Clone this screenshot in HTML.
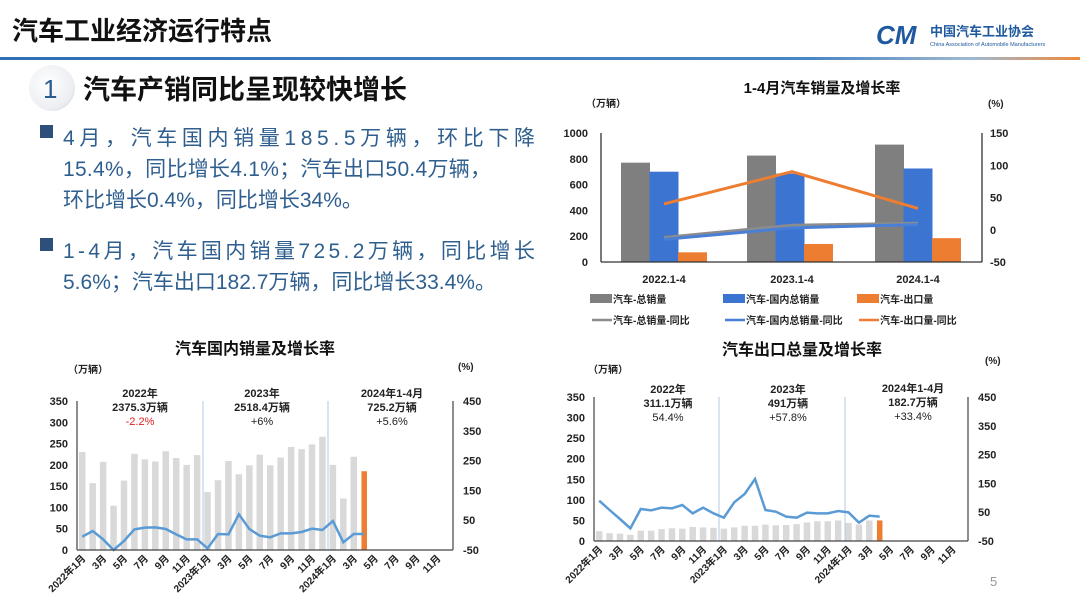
<!DOCTYPE html>
<html><head><meta charset="utf-8">
<style>
html,body{margin:0;padding:0;background:#fff;}
body{width:1080px;height:607px;overflow:hidden;position:relative;font-family:"Liberation Sans","Noto Sans CJK SC",sans-serif;}
svg{position:absolute;left:0;top:0;}
</style></head>
<body>
<svg id="s" width="1080" height="607" viewBox="0 0 1080 607" xmlns="http://www.w3.org/2000/svg" font-family="Liberation Sans, Noto Sans CJK SC, sans-serif">
<defs>
<linearGradient id="hl" x1="0" x2="1" y1="0" y2="0">
<stop offset="0" stop-color="#2e6fb5"/><stop offset="0.75" stop-color="#4a86c5"/><stop offset="0.9" stop-color="#9fb8d0"/><stop offset="1" stop-color="#ee8a3c"/>
</linearGradient>
<radialGradient id="cg" cx="0.4" cy="0.4" r="0.7"><stop offset="0" stop-color="#ffffff"/><stop offset="0.8" stop-color="#eceef2"/><stop offset="1" stop-color="#d6d9df"/></radialGradient>
</defs>
<text x="12" y="40" font-size="26" font-weight="bold" fill="#111">汽车工业经济运行特点</text>
<rect x="0" y="57" width="1080" height="3" fill="url(#hl)"/>
<text x="876" y="44" font-size="26" font-weight="bold" font-style="italic" fill="#1f5aa0">CM</text>
<text x="930" y="36" font-size="13" font-weight="bold" fill="#1f5aa0">中国汽车工业协会</text>
<text x="930" y="46" font-size="5.5" fill="#1f5aa0">China Association of Automobile Manufacturers</text>
<circle cx="52" cy="88" r="23" fill="url(#cg)"/>
<text x="43" y="98" font-size="26" fill="#2a5c8f">1</text>
<text x="83" y="99" font-size="27" font-weight="bold" fill="#111">汽车产销同比呈现较快增长</text>
<g fill="#2f5f8f" font-size="21">
<rect x="40" y="125" width="13" height="13" fill="#2c4f7c"/>
<text x="63" y="145" textLength="472" lengthAdjust="spacing">4月，汽车国内销量185.5万辆，环比下降</text>
<text x="63" y="176" textLength="428" lengthAdjust="spacing">15.4%，同比增长4.1%；汽车出口50.4万辆，</text>
<text x="63" y="207">环比增长0.4%，同比增长34%。</text>
<rect x="40" y="238" width="13" height="13" fill="#2c4f7c"/>
<text x="63" y="258" textLength="472" lengthAdjust="spacing">1-4月，汽车国内销量725.2万辆，同比增长</text>
<text x="63" y="289">5.6%；汽车出口182.7万辆，同比增长33.4%。</text>
</g>
<text x="822" y="93" font-size="15" font-weight="bold" fill="#111" text-anchor="middle">1-4月汽车销量及增长率</text>
<text x="586" y="107" font-size="10" font-weight="bold" fill="#222">（万辆）</text>
<text x="988" y="107" font-size="10" font-weight="bold" fill="#222">(%)</text>
<g id="tr"></g>
<text x="255" y="354" font-size="16" font-weight="bold" fill="#111" text-anchor="middle">汽车国内销量及增长率</text>
<text x="68" y="373" font-size="10" font-weight="bold" fill="#222">（万辆）</text>
<text x="458" y="370" font-size="10" font-weight="bold" fill="#222">(%)</text>
<g id="bl"></g>
<text x="802" y="355" font-size="16" font-weight="bold" fill="#111" text-anchor="middle">汽车出口总量及增长率</text>
<text x="588" y="373" font-size="10" font-weight="bold" fill="#222">（万辆）</text>
<text x="985" y="364" font-size="10" font-weight="bold" fill="#222">(%)</text>
<g id="br"></g>
<text x="990" y="586" font-size="13" fill="#999">5</text>
</svg>
<script>
var NS="http://www.w3.org/2000/svg";
function el(p,t,a,txt){var e=document.createElementNS(NS,t);for(var k in a)e.setAttribute(k,a[k]);if(txt!=null)e.textContent=txt;p.appendChild(e);return e;}
(function(){
var g=document.getElementById('tr');
var y0=262,yt=133;function yl(v){return y0-(v/1000)*(y0-yt);}function yr(v){return y0-((v+50)/200)*(y0-yt);}
[0,200,400,600,800,1000].forEach(function(v){el(g,'text',{x:588,y:yl(v)+4,'font-size':11,'font-weight':'bold','text-anchor':'end',fill:'#222'},v);});
[-50,0,50,100,150].forEach(function(v){el(g,'text',{x:990,y:yr(v)+4,'font-size':11,'font-weight':'bold',fill:'#222'},v);});
var gx=[621,747,875],gv=[[770,700,75],[825,685,140],[910,725,185]],cols=['#7f7f7f','#3b74d1','#ed7d31'];
gx.forEach(function(x,i){for(var j=0;j<3;j++){var h=gv[i][j];el(g,'rect',{x:x+j*28.5,y:yl(h),width:29,height:y0-yl(h),fill:cols[j]});}});
el(g,'line',{x1:601,y1:yt,x2:601,y2:y0,stroke:'#333','stroke-width':1.3});
el(g,'line',{x1:982,y1:yt,x2:982,y2:y0,stroke:'#333','stroke-width':1.3});
el(g,'line',{x1:601,y1:y0,x2:982,y2:y0,stroke:'#333','stroke-width':1.3});
var lx=[664,792,918];
function ln(vals,c){el(g,'polyline',{points:lx.map(function(x,i){return x+','+yr(vals[i]);}).join(' '),fill:'none',stroke:c,'stroke-width':3});}
ln([-12,7,10],'#8c8c8c');ln([-15,3,8],'#4a7fd6');ln([40,90,33],'#ed7d31');
['2022.1-4','2023.1-4','2024.1-4'].forEach(function(t,i){el(g,'text',{x:lx[i],y:283,'font-size':11,'font-weight':'bold','text-anchor':'middle',fill:'#222'},t);});
var L=[[590,'汽车-总销量','#7f7f7f'],[723,'汽车-国内总销量','#3b74d1'],[857,'汽车-出口量','#ed7d31']];
L.forEach(function(a){el(g,'rect',{x:a[0],y:294,width:22,height:9,fill:a[2]});el(g,'text',{x:a[0]+23,y:303,'font-size':10,'font-weight':'bold',fill:'#222'},a[1]);});
var L2=[[590,'汽车-总销量-同比','#8c8c8c'],[723,'汽车-国内总销量-同比','#4a7fd6'],[857,'汽车-出口量-同比','#ed7d31']];
L2.forEach(function(a){el(g,'line',{x1:a[0]+2,y1:320,x2:a[0]+22,y2:320,stroke:a[2],'stroke-width':2.5});el(g,'text',{x:a[0]+23,y:324,'font-size':10,'font-weight':'bold',fill:'#222'},a[1]);});
})();
function monthly(id,ax0,ax1,yt,y0,bars,lineY,divs,ann){
var g=document.getElementById(id);
function yl(v){return y0-(v/350)*(y0-yt);}function yr(v){return y0-((v+50)/500)*(y0-yt);}
[0,50,100,150,200,250,300,350].forEach(function(v){el(g,'text',{x:ax0-9,y:yl(v)+4,'font-size':11,'font-weight':'bold','text-anchor':'end',fill:'#222'},v);});
[-50,50,150,250,350,450].forEach(function(v){el(g,'text',{x:ax1+10,y:yr(v)+4,'font-size':11,'font-weight':'bold',fill:'#222'},v);});
var sw=(ax1-ax0)/36;
bars.forEach(function(v,i){var cx=ax0+sw*(i+0.5);var last=i==bars.length-1;var w=last?5.5:6.5;el(g,'rect',{x:cx-w/2,y:yl(v),width:w,height:y0-yl(v),fill:last?'#ed7d31':'#d9d9d9'});});
divs.forEach(function(x){el(g,'line',{x1:x,y1:yt,x2:x,y2:y0,stroke:'#9dbbe0','stroke-width':0.8});});
el(g,'polyline',{points:lineY.map(function(y,i){return (ax0+sw*(i+0.5))+','+y;}).join(' '),fill:'none',stroke:'#5b9bd5','stroke-width':2.5});
el(g,'line',{x1:ax0,y1:yt,x2:ax0,y2:y0,stroke:'#444','stroke-width':1.2});
el(g,'line',{x1:ax1,y1:yt,x2:ax1,y2:y0,stroke:'#444','stroke-width':1.2});
el(g,'line',{x1:ax0,y1:y0,x2:ax1,y2:y0,stroke:'#444','stroke-width':1.2});
for(var k=0;k<18;k++){var m=(k%6)*2+1;var yy=2022+Math.floor(k/6);var t=(m==1)?(yy+'年1月'):(m+'月');
var cx=ax0+sw*(2*k+0.5)+4;el(g,'text',{x:cx,y:y0+9,'font-size':10,'font-weight':'bold','text-anchor':'end',fill:'#222',transform:'rotate(-45 '+cx+' '+(y0+9)+')'},t);}
ann.forEach(function(a){a[2].forEach(function(t,j){el(g,'text',{x:a[0],y:a[1]+j*14,'font-size':11,'font-weight':(j<2?'bold':'normal'),'text-anchor':'middle',fill:(t=='-2.2%'?'#e02020':'#222')},t);});});
}
var dom=[230,157,207,104,163,226,213,208,232,216,200,223,136,164,209,178,199,224,199,217,242,237,248,266,200,121,219,185];
var dl=[620,603,628,660,633,598,593,592,597,613,628,628,655,612,613,553,597,617,622,610,610,606,596,600,573,637,612,612].map(function(v){return v/3+330;});
monthly('bl',77,453,401,550,dom,dl,[203,328],[[140,397,['2022年','2375.3万辆','-2.2%']],[262,397,['2023年','2518.4万辆','+6%']],[392,397,['2024年1-4月','725.2万辆','+5.6%']]]);
var ex=[24,19,18,15,25,25,29,31,30,34,33,32,30,33,37,37,40,38,39,41,45,48,48,50,44,40,50,50];
var el_=[512,540,567,595,537,541,533,535,525,550,533,550,563,517,492,447,540,545,560,563,548,550,550,543,547,578,557,560].map(function(v){return v/3+330;});
monthly('br',594,968,397,541,ex,el_,[719,845],[[668,393,['2022年','311.1万辆','54.4%']],[788,393,['2023年','491万辆','+57.8%']],[913,392,['2024年1-4月','182.7万辆','+33.4%']]]);
</script>
</body></html>
